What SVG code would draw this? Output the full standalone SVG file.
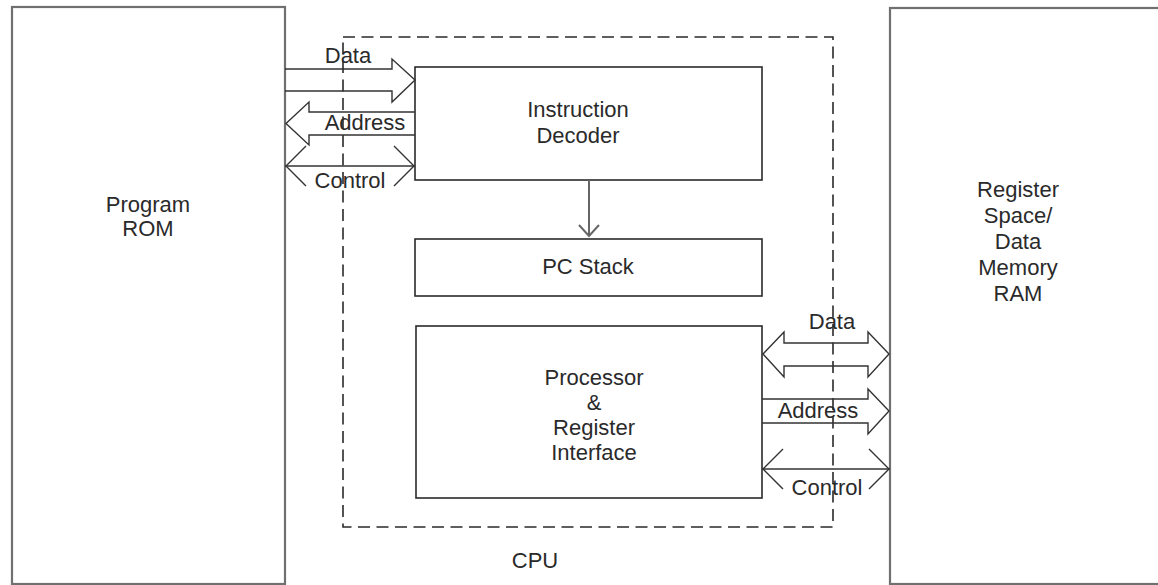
<svg xmlns="http://www.w3.org/2000/svg" width="1158" height="585" viewBox="0 0 1158 585">
<style>
text{font-family:"Liberation Sans",Arial,sans-serif;font-size:22px;fill:#2a2a2a;text-anchor:middle}
.outer{fill:#fff;stroke:#707070;stroke-width:2.2}
.inner{fill:#fff;stroke:#2a2a2a;stroke-width:1.6}
.dash{fill:none;stroke:#2a2a2a;stroke-width:1.6;stroke-dasharray:12 6.5}
.bus{fill:none;stroke:#333;stroke-width:1.4;stroke-linejoin:miter}
.arr{fill:none;stroke:#666;stroke-width:2}
</style>
<rect width="1158" height="585" fill="#fff"/>
<g id="program-rom">
<rect class="outer" x="12" y="7" width="273" height="577"/>
<text x="148" y="212">Program</text>
<text x="148" y="236">ROM</text>
</g>
<g id="register-space">
<rect class="outer" x="890" y="8" width="290" height="576"/>
<text x="1018" y="197">Register</text>
<text x="1018" y="223">Space/</text>
<text x="1018" y="249">Data</text>
<text x="1018" y="275">Memory</text>
<text x="1018" y="301">RAM</text>
</g>
<g id="cpu">
<rect class="dash" x="343" y="37" width="490" height="490"/>
<text x="535" y="568">CPU</text>
</g>
<g id="instruction-decoder">
<rect class="inner" x="415" y="67" width="347" height="113"/>
<text x="578" y="117">Instruction</text>
<text x="578" y="143">Decoder</text>
</g>
<g id="pc-stack">
<rect class="inner" x="415" y="239" width="347" height="57"/>
<text x="588" y="274">PC Stack</text>
</g>
<g id="processor">
<rect class="inner" x="416" y="326" width="346" height="172"/>
<text x="594" y="385">Processor</text>
<text x="594" y="410">&amp;</text>
<text x="594" y="435">Register</text>
<text x="594" y="460">Interface</text>
</g>
<g id="connectors">
<polyline class="bus" points="285,69 392,69 392,59 415,80 392,102 392,91 285,91"/>
<polyline class="bus" points="415,112 309,112 309,102 286,123.5 309,145 309,135 415,135"/>
<line class="bus" x1="285" y1="166" x2="415" y2="166"/>
<polyline class="bus" points="306,146 286,166 306,186"/>
<polyline class="bus" points="394,146 414,166 394,186"/>
<polygon class="bus" points="763,354 784,332 784,343 868,343 868,332 889,354 868,377 868,366 784,366 784,377"/>
<polyline class="bus" points="762,399 868,399 868,389 889,411 868,434 868,423 762,423"/>
<line class="bus" x1="762" y1="469" x2="890" y2="469"/>
<polyline class="bus" points="783,449 763,469 783,489"/>
<polyline class="bus" points="869,449 889,469 869,489"/>
<line class="arr" x1="589" y1="180" x2="589" y2="236"/>
<polyline class="arr" points="579,225 589,236 599,225"/>
<text x="348" y="63">Data</text>
<text x="365" y="130">Address</text>
<text x="350" y="188">Control</text>
<text x="832" y="329">Data</text>
<text x="818" y="418">Address</text>
<text x="827" y="495">Control</text>
</g>
</svg>
